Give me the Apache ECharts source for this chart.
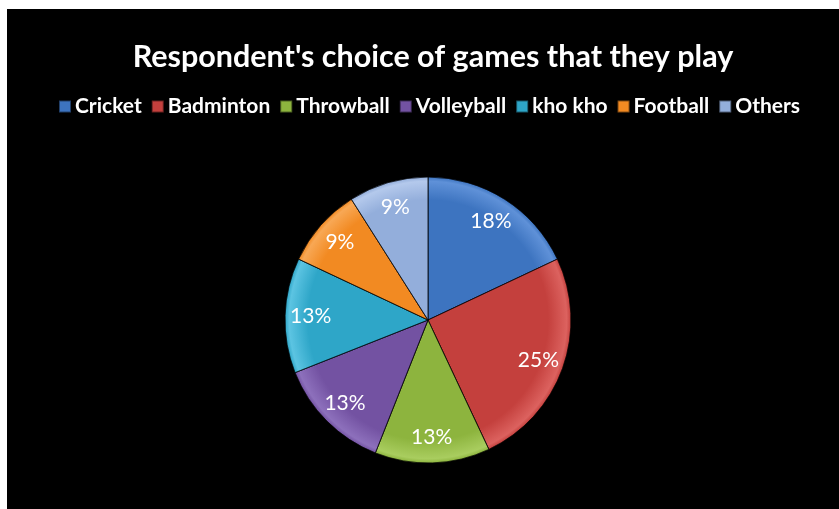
<!DOCTYPE html>
<html>
<head>
<meta charset="utf-8">
<script src="https://cdn.jsdelivr.net/npm/echarts@6/dist/echarts.min.js"></script>
<style>
  html, body { margin: 0; padding: 0; background: #ffffff; width: 839px; height: 509px; overflow: hidden; }
  #chart { position: absolute; left: 7px; top: 9px; width: 832px; height: 500px; background: #000000; }
</style>
</head>
<body>
<div id="chart"></div>
<script>
// Share of respondents by game played
const games = ['Cricket', 'Badminton', 'Throwball', 'Volleyball', 'kho kho', 'Football', 'Others'];
const shares = [18, 25, 13, 13, 13, 9, 9];
const baseColors = ['#3d74c0', '#c4403d', '#8db43e', '#7352a2', '#2ea6c8', '#f28a22', '#93aedb'];
const highlightColors = ['#5f91d8', '#dc625f', '#a9cd5f', '#8d70bc', '#5cc4e2', '#f8a855', '#b4c9ec'];

const chart = echarts.init(document.getElementById('chart'));

const cx = 421, cy = 311, R = 143;

// Bevel-like rim: flat body colour brightening toward the outer edge
function sliceFill(i) {
  return {
    type: 'radial', x: cx, y: cy, r: R, global: true,
    colorStops: [
      { offset: 0, color: baseColors[i] },
      { offset: 0.84, color: baseColors[i] },
      { offset: 0.97, color: highlightColors[i] },
      { offset: 1, color: baseColors[i] }
    ]
  };
}

const pieData = games.map((g, i) => ({ name: g, value: shares[i], itemStyle: { color: sliceFill(i) } }));
const labelData = games.map((g, i) => ({ name: g, value: shares[i] }));

chart.setOption({
  backgroundColor: '#000000',
  color: baseColors,
  title: {
    text: "Respondent's choice of games that they play",
    left: 421, top: 28, textAlign: 'center',
    textStyle: { color: '#ffffff', fontFamily: 'Lato', fontWeight: 'bold', fontSize: 30.5 }
  },
  legend: {
    data: games,
    left: 46, top: 82,
    itemWidth: 12, itemHeight: 12, itemGap: 9,
    icon: 'rect',
    textStyle: { color: '#ffffff', fontFamily: 'Lato', fontWeight: 'bold', fontSize: 21, padding: [0, 0, 0, -1] }
  },
  series: [
    {
      type: 'pie',
      center: [cx, cy], radius: [0, R],
      startAngle: 90, clockwise: true,
      label: { show: false }, labelLine: { show: false },
      itemStyle: { borderColor: 'rgba(0,0,0,0.45)', borderWidth: 1 },
      emphasis: { disabled: true },
      data: pieData
    },
    {
      // label ring: places the percentage text at ~80% of the radius
      type: 'pie',
      center: [cx, cy], radius: [R * 0.6, R],
      startAngle: 90, clockwise: true, silent: true,
      itemStyle: { color: 'rgba(0,0,0,0)' },
      label: {
        show: true, position: 'inside',
        formatter: p => p.value + '%',
        color: '#ffffff', fontFamily: 'Lato', fontSize: 21
      },
      labelLine: { show: false },
      emphasis: { disabled: true },
      data: labelData
    }
  ]
});
</script>
</body>
</html>
